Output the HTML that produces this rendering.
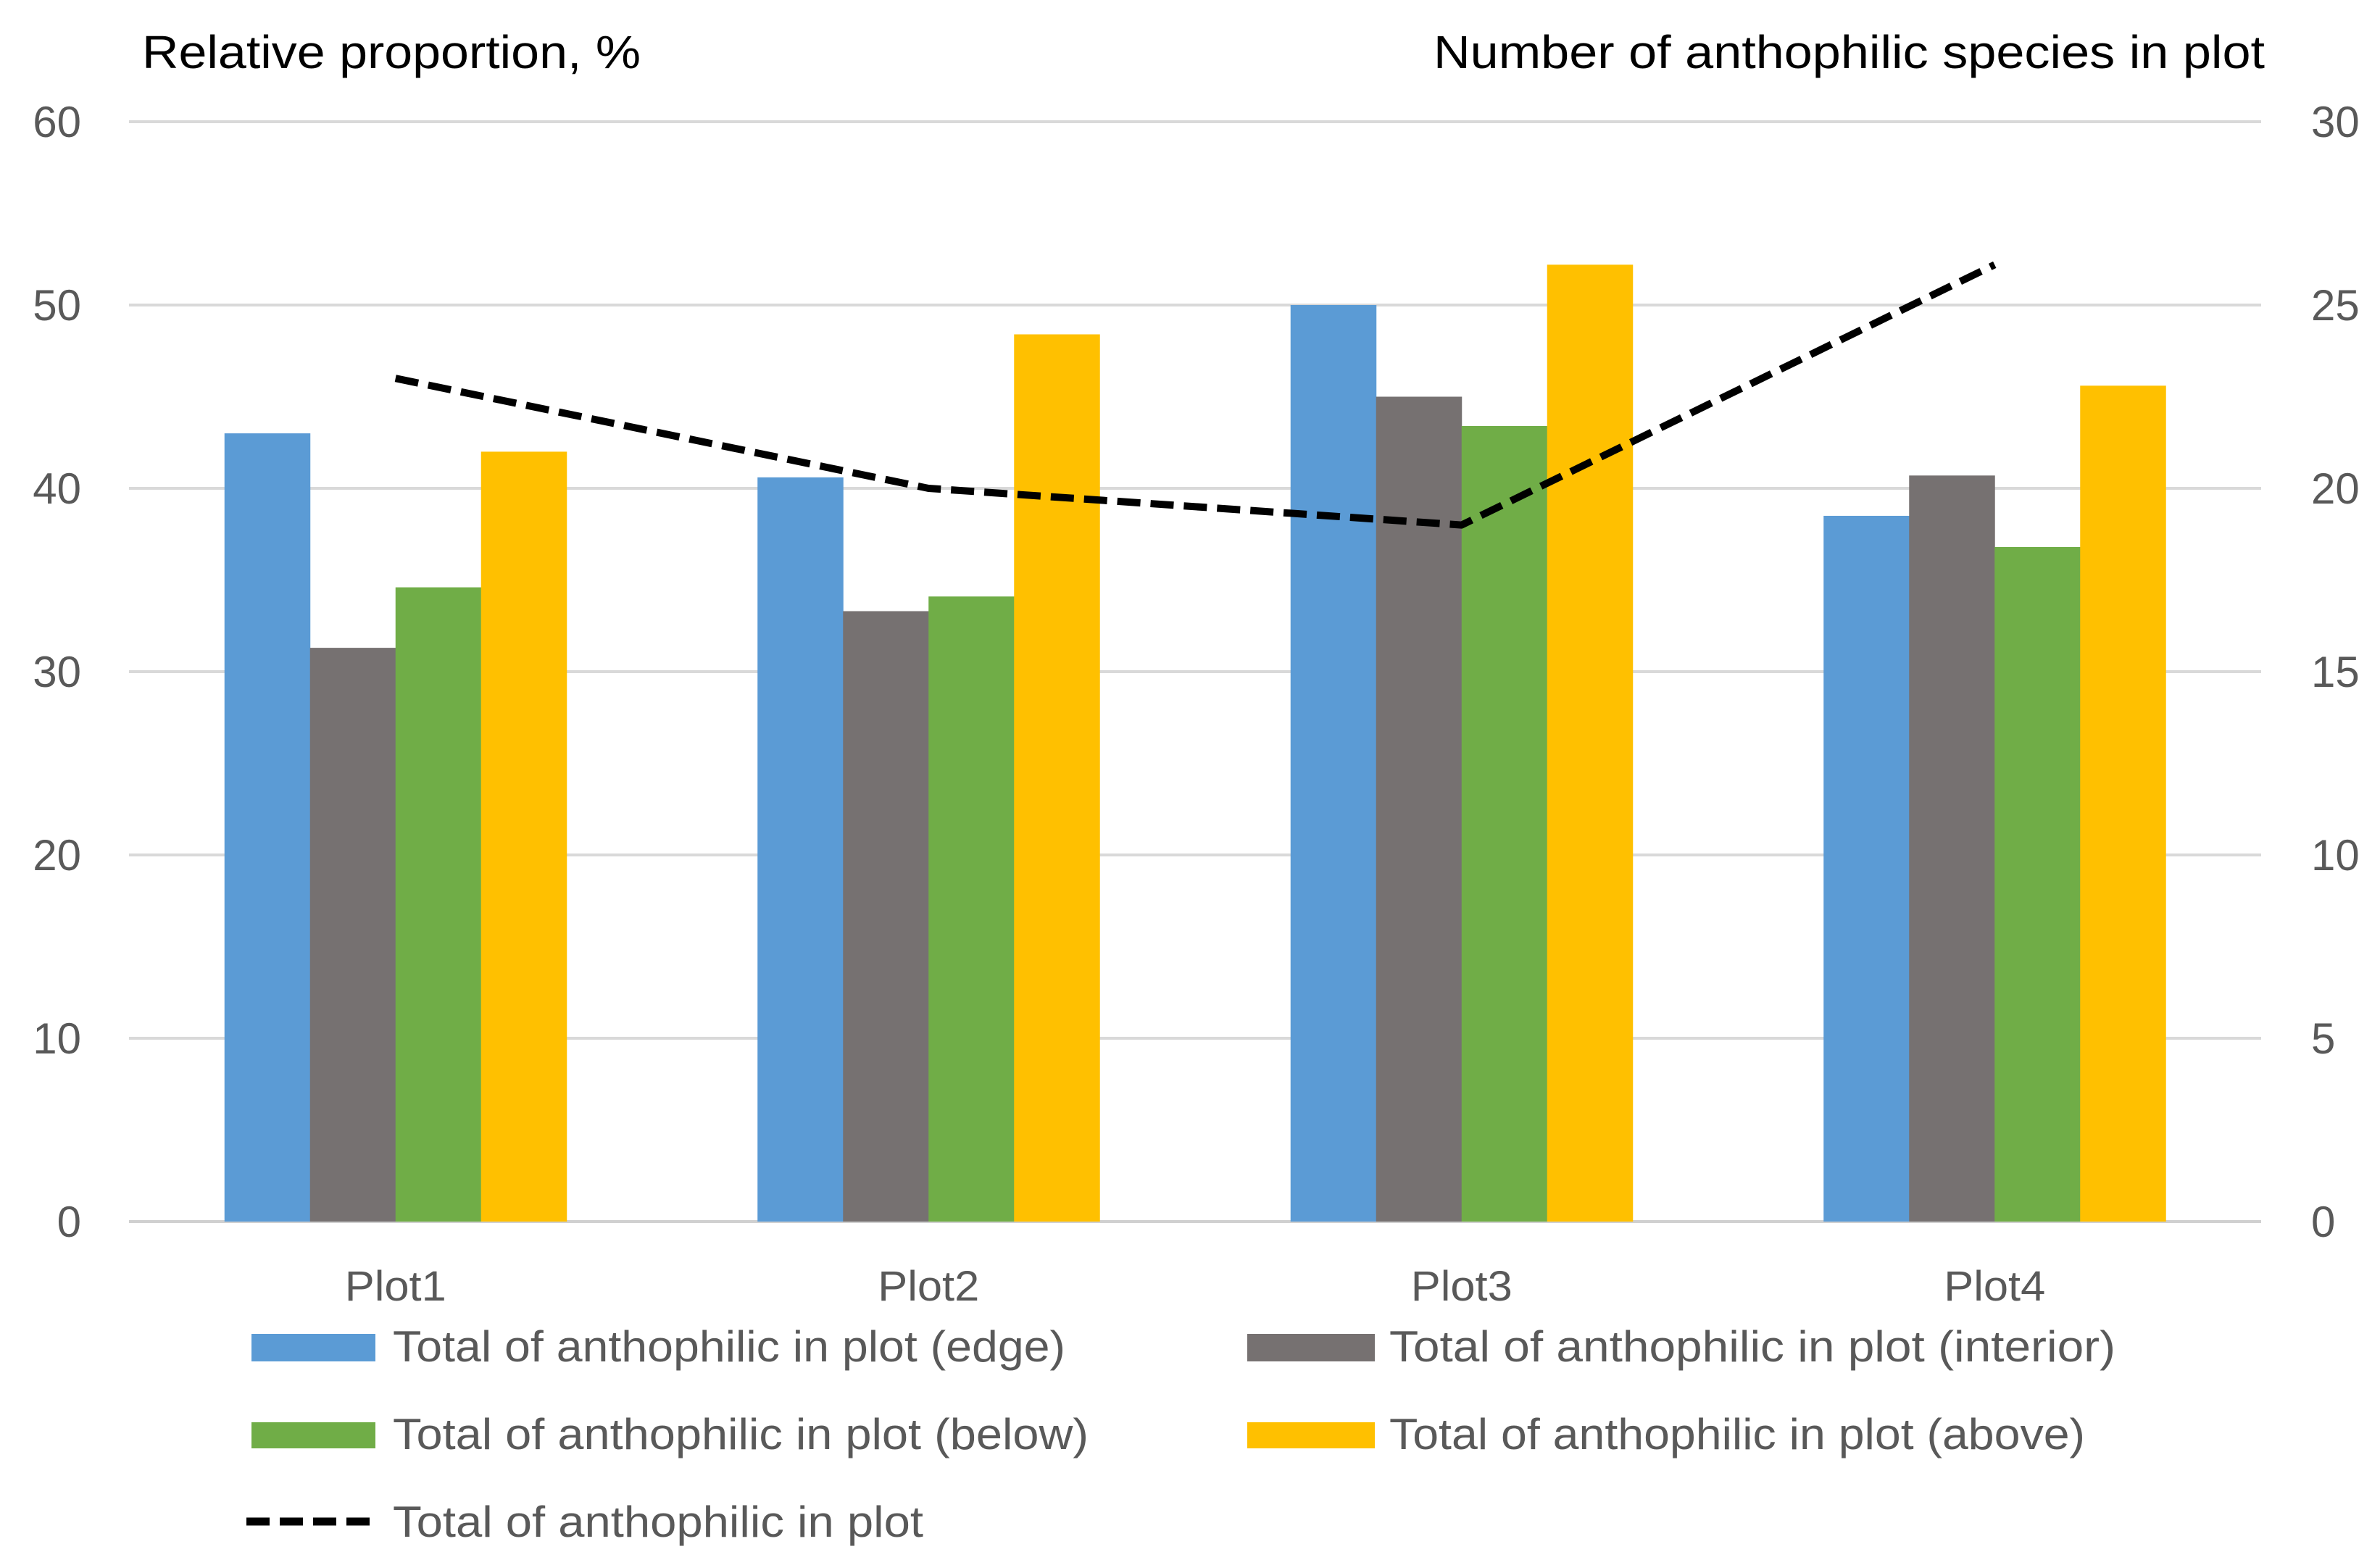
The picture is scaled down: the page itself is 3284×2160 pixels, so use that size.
<!DOCTYPE html>
<html><head><meta charset="utf-8"><style>
html,body{margin:0;padding:0;background:#fff;}
svg{display:block;font-family:"Liberation Sans",sans-serif;}
</style></head><body>
<svg id="chart" width="3284" height="2160" viewBox="0 0 3284 2160" xmlns="http://www.w3.org/2000/svg">
<rect width="3284" height="2160" fill="#fff"/>
<g id="grid"></g>
<g id="bars"></g>
<g id="line"></g>
<g id="labels"></g>
<text x="196" y="94" font-size="64" fill="#000" textLength="688" lengthAdjust="spacingAndGlyphs">Relative proportion, %</text>
<text x="1978" y="94" font-size="64" fill="#000" textLength="1147" lengthAdjust="spacingAndGlyphs">Number of anthophilic species in plot</text>
<g>
 <g><rect x="347" y="1841" width="171" height="38" fill="#5B9BD5"/><text x="542" y="1879" font-size="60" fill="#595959" textLength="928" lengthAdjust="spacingAndGlyphs">Total of anthophilic in plot (edge)</text></g>
 <g><rect x="1721" y="1841" width="176" height="38" fill="#767171"/><text x="1917" y="1879" font-size="60" fill="#595959" textLength="1002" lengthAdjust="spacingAndGlyphs">Total of anthophilic in plot (interior)</text></g>
 <g><rect x="347" y="1963" width="171" height="36" fill="#70AD47"/><text x="542" y="2000" font-size="60" fill="#595959" textLength="960" lengthAdjust="spacingAndGlyphs">Total of anthophilic in plot (below)</text></g>
 <g><rect x="1721" y="1963" width="176" height="36" fill="#FFC000"/><text x="1917" y="2000" font-size="60" fill="#595959" textLength="960" lengthAdjust="spacingAndGlyphs">Total of anthophilic in plot (above)</text></g>
 <g><line x1="340" y1="2100" x2="518" y2="2100" stroke="#000" stroke-width="11" stroke-dasharray="32 14"/><text x="542" y="2121" font-size="60" fill="#595959" textLength="732" lengthAdjust="spacingAndGlyphs">Total of anthophilic in plot</text></g>
</g>
</svg>
<script>
const categories = ["Plot1","Plot2","Plot3","Plot4"];
const edgeValues = [43, 40.6, 50, 38.5];
const interiorValues = [31.3, 33.3, 45, 40.7];
const belowValues = [34.6, 34.1, 43.4, 36.8];
const aboveValues = [42, 48.4, 52.2, 45.6];
const totalSpecies = [23, 20, 19, 26.1];
const leftTicks = [0,10,20,30,40,50,60];
const rightTicks = [0,5,10,15,20,25,30];

const NS = "http://www.w3.org/2000/svg";
const X0 = 178, X1 = 3120, Y0 = 1686, Y1 = 168;
const leftMax = 60, rightMax = 30;
const bandW = (X1 - X0) / categories.length;
const barW = 118;
function yL(v){ return Y0 - (v/leftMax)*(Y0-Y1); }
function yR(v){ return Y0 - (v/rightMax)*(Y0-Y1); }
function xC(i){ return X0 + bandW*(i+0.5); }
function mk(tag, attrs, parent){ const e=document.createElementNS(NS,tag); for(const k in attrs) e.setAttribute(k,attrs[k]); parent.appendChild(e); return e; }

const grid = document.getElementById('grid');
const labels = document.getElementById('labels');
leftTicks.forEach((t,i)=>{
  const y = yL(t);
  const g = mk('line',{x1:X0,x2:X1,y1:y,y2:y,stroke:t===0?'#d0d0d0':'#d9d9d9','stroke-width':4},grid);
  
  
  const lt = mk('text',{x:112,y:y+21,'font-size':60,fill:'#595959','text-anchor':'end'},labels);
  lt.textContent = t;
  
  
});
rightTicks.forEach(t=>{
  const y = yR(t);
  const rt = mk('text',{x:3189,y:y+21,'font-size':60,fill:'#595959'},labels);
  rt.textContent = t;
  
  
});
categories.forEach((c,i)=>{
  const ct = mk('text',{x:xC(i),y:1795,'font-size':58,fill:'#595959','text-anchor':'middle',textLength:140,lengthAdjust:'spacingAndGlyphs'},labels);
  ct.textContent = c;
  
  
});

const bars = document.getElementById('bars');
const series = [[edgeValues,'#5B9BD5','edge'],[interiorValues,'#767171','interior'],[belowValues,'#70AD47','below'],[aboveValues,'#FFC000','above']];
categories.forEach((c,i)=>{
  const left = xC(i) - barW*2;
  series.forEach((s,j)=>{
    const v = s[0][i];
    const r = mk('rect',{x:left+j*barW,y:yL(v),width:barW+0.5,height:Y0-yL(v),fill:s[1]},bars);
    
    
  });
});

const lineG = document.getElementById('line');
const pts = totalSpecies.map((v,i)=>xC(i)+','+yR(v)).join(' ');
const pl = mk('polyline',{points:pts,fill:'none',stroke:'#000','stroke-width':10,'stroke-dasharray':'32 14','stroke-linejoin':'round'},lineG);


</script>
</body></html>
